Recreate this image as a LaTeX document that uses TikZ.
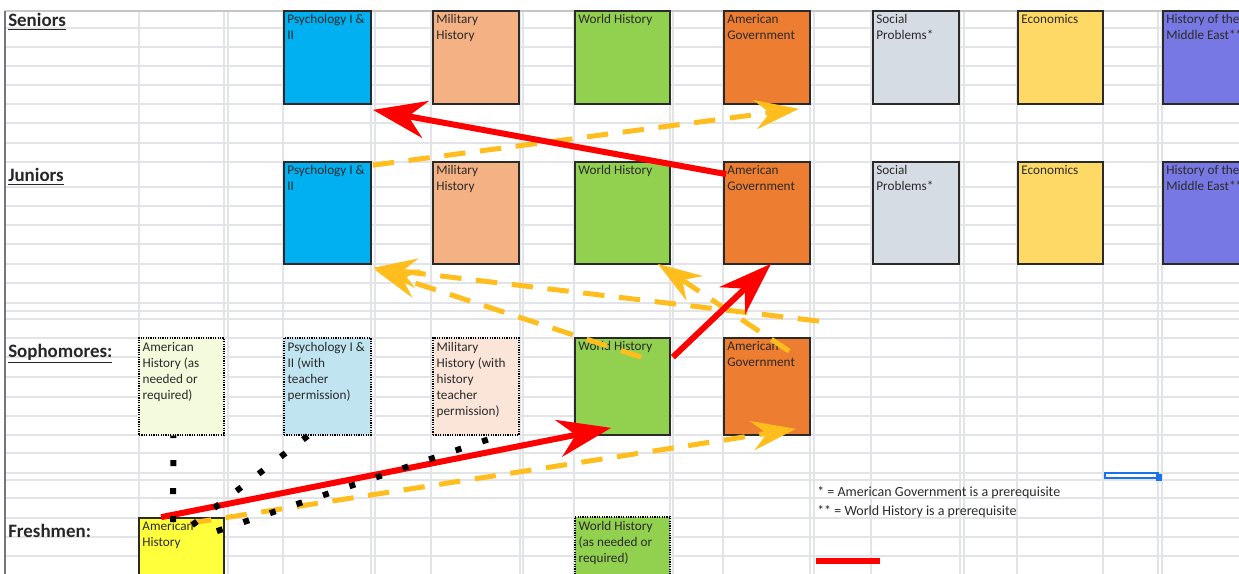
\documentclass[tikz,border=0pt]{standalone}
\usepackage{fontspec}
\setmainfont{Carlito}
\usepackage{tikz}
\usetikzlibrary{calc, fit, arrows.meta}

\definecolor{psych}{HTML}{00B0F0}
\definecolor{military}{HTML}{F4B183}
\definecolor{world}{HTML}{92D050}
\definecolor{amgov}{HTML}{ED7D31}
\definecolor{social}{HTML}{D6DCE4}
\definecolor{econ}{HTML}{FFD966}
\definecolor{mideast}{HTML}{7878E4}
\definecolor{amhist}{HTML}{FFFF3C}
\definecolor{amhistpale}{HTML}{F4FADC}
\definecolor{psychpale}{HTML}{C0E4F0}
\definecolor{militarypale}{HTML}{FBE4D8}
\definecolor{gridgray}{HTML}{E2E4E7}
\definecolor{textgray}{HTML}{2A2A2A}
\definecolor{arrowred}{HTML}{FF0000}
\definecolor{arrowgold}{HTML}{FFBE1E}
\definecolor{selblue}{HTML}{1A73E8}

\tikzset{course/.style={draw=textgray, line width=1.3pt, inner sep=0pt}}
\tikzset{optional/.style={draw=black, line width=0.9pt, dash pattern=on 0.9pt off 0.9pt, inner sep=0pt}}
\tikzset{course text/.style={anchor=north west, inner xsep=3pt, inner ysep=3.2pt, align=left,
    text=textgray, font=\fontsize{9.9}{12}\selectfont}}
\tikzset{year/.style={anchor=base west, inner sep=0pt, text=black!85,
    font=\fontsize{14.2}{17}\selectfont\bfseries}}
\tikzset{note/.style={anchor=base west, inner sep=0pt, text=textgray, font=\fontsize{10.5}{13}\selectfont}}
\tikzset{gridline/.style={gridgray, line width=0.8pt}}
\tikzset{needs/.style={arrowred, line width=4.5pt,
    -{Stealth[length=40pt, width=28pt, inset=13pt]}}}
\tikzset{may take/.style={arrowgold, line width=3.75pt, dash pattern=on 16pt off 11pt,
    -{Stealth[length=33pt, width=22pt, inset=11pt]}}}
\tikzset{allowed/.style={black, line width=4.5pt, dash pattern=on 4.5pt off 16.5pt}}

\begin{document}
\begin{tikzpicture}[x=0.75pt, y=-0.75pt]
    \useasboundingbox (0,0) rectangle (1239,574);
    \clip (0,0) rectangle (1239,574);

    % spreadsheet grid
    \foreach \y in {28,47,66,85,104,123,143,162,187,206,225,244,264,283,303,311,319,338,357,377,397,416,435,453,473,480,498,518,537,556}
        \draw[gridline] (5,\y) -- (1239,\y);
    \foreach \x in {139,224,228,283,371,375,431,520,523,574,670,673,723,810,814,871,960,964,1017,1103,1158,1162}
        \draw[gridline] (\x,11) -- (\x,574);
    \draw[gray!45, line width=0.9pt] (5,11) -- (1239,11);
    \draw[black!70!cyan!40!gray, line width=1pt] (5,11) -- (5,574);

    \node[year] (seniors) at (8,27) {\underline{Seniors}};
    \node[year] (juniors) at (8,182) {\underline{Juniors}};
    \node[year] (sophomores) at (8,357) {\underline{Sophomores:}};
    \node[year] (freshmen) at (8,537) {Freshmen:};

    \node[course, fill=psych, fit={(284,11) (371,104)}, label={[course text]north west:{Psychology I \&\\II}}] (sen-psych) {};
    \node[course, fill=military, fit={(433,11) (519,104)}, label={[course text]north west:{Military\\History}}] (sen-mil) {};
    \node[course, fill=world, fit={(575,11) (670,104)}, label={[course text]north west:{World History}}] (sen-wh) {};
    \node[course, fill=amgov, fit={(724,11) (810,104)}, label={[course text]north west:{American\\Government}}] (sen-amgov) {};
    \node[course, fill=social, fit={(873,11) (959,104)}, label={[course text]north west:{Social\\Problems*}}] (sen-soc) {};
    \node[course, fill=econ, fit={(1018,11) (1103,104)}, label={[course text]north west:{Economics}}] (sen-econ) {};
    \node[course, fill=mideast, fit={(1163,11) (1260,104)}, label={[course text]north west:{History of the\\Middle East**}}] (sen-me) {};

    \node[course, fill=psych, fit={(284,162) (371,264)}, label={[course text]north west:{Psychology I \&\\II}}] (jun-psych) {};
    \node[course, fill=military, fit={(433,162) (519,264)}, label={[course text]north west:{Military\\History}}] (jun-mil) {};
    \node[course, fill=world, fit={(575,162) (670,264)}, label={[course text]north west:{World History}}] (jun-wh) {};
    \node[course, fill=amgov, fit={(724,162) (810,264)}, label={[course text]north west:{American\\Government}}] (jun-amgov) {};
    \node[course, fill=social, fit={(873,162) (959,264)}, label={[course text]north west:{Social\\Problems*}}] (jun-soc) {};
    \node[course, fill=econ, fit={(1018,162) (1103,264)}, label={[course text]north west:{Economics}}] (jun-econ) {};
    \node[course, fill=mideast, fit={(1163,162) (1260,264)}, label={[course text]north west:{History of the\\Middle East**}}] (jun-me) {};

    \node[optional, fill=amhistpale, fit={(139,338) (224,435)}, label={[course text]north west:{American\\History (as\\needed or\\required)}}] (so-amhist) {};
    \node[optional, fill=psychpale, fit={(284,338) (371,435)}, label={[course text]north west:{Psychology I \&\\II (with\\teacher\\permission)}}] (so-psych) {};
    \node[optional, fill=militarypale, fit={(433,338) (519,435)}, label={[course text]north west:{Military\\History (with\\history\\teacher\\permission)}}] (so-mil) {};
    \node[course, fill=world, fit={(575,338) (670,435)}, label={[course text]north west:{World History}}] (so-wh) {};
    \node[course, fill=amgov, fit={(724,338) (810,435)}, label={[course text]north west:{American\\Government}}] (so-amgov) {};

    \node[course, fill=amhist, fit={(139,518) (224,590)}, label={[course text]north west:{American\\History}}] (fr-amhist) {};
    \node[optional, fill=world, fit={(575,517) (670,590)}, label={[course text]north west:{World History\\(as needed or\\required)}}] (fr-wh) {};

    % paths
    \draw[may take] ($(jun-psych.north east)+(1,4)$) to ($(sen-amgov.south east)+(-12,4)$);
    \draw[may take] ($(so-amgov.north east)+(8,-16)$) to ($(jun-psych.south east)+(1,3)$);
    \draw[may take] ($(so-wh.north west)+(67,20)$) to ($(jun-psych.south east)+(3,5)$);
    \draw[may take] ($(so-amgov.north west)+(66,14)$) to ($(jun-wh.south east)+(-13,-1)$);
    \draw[may take] ($(fr-amhist.north west)+(52,6)$) to ($(so-amgov.south east)+(-15,-7)$);

    \draw[needs] ($(jun-amgov.north west)+(3,13)$) to ($(sen-psych.south east)+(1,5)$);
    \draw[needs] ($(so-wh.north east)+(2,20)$) to ($(jun-amgov.south)+(4,-1)$);
    \draw[needs] ($(fr-amhist.north west)+(23,0)$) to ($(so-wh.south west)+(37,-8)$);

    \draw[allowed] ($(fr-amhist.north west)+(35,5)$) to ($(so-amhist.south west)+(35,0)$);
    \draw[allowed] ($(fr-amhist.north west)+(54,8)$) to ($(so-psych.south west)+(30,-4)$);
    \draw[allowed] ($(fr-amhist.north east)+(-8,14)$) to ($(so-mil.south east)+(-20,0)$);

    % key
    \node[note] (note-ag) at (817,496) {* = American Government is a prerequisite};
    \node[note] (note-wh) at (817,515) {** = World History is a prerequisite};
    \coordinate (key-l) at (816,561);
    \coordinate (key-r) at (880,561);
    \draw[arrowred, line width=4.3pt] (key-l) to (key-r);

    % selected cell
    \draw[selblue, line width=1.3pt] (1105,473) rectangle (1158,478);
    \fill[selblue] (1156,474) rectangle (1162,481);
\end{tikzpicture}
\end{document}
